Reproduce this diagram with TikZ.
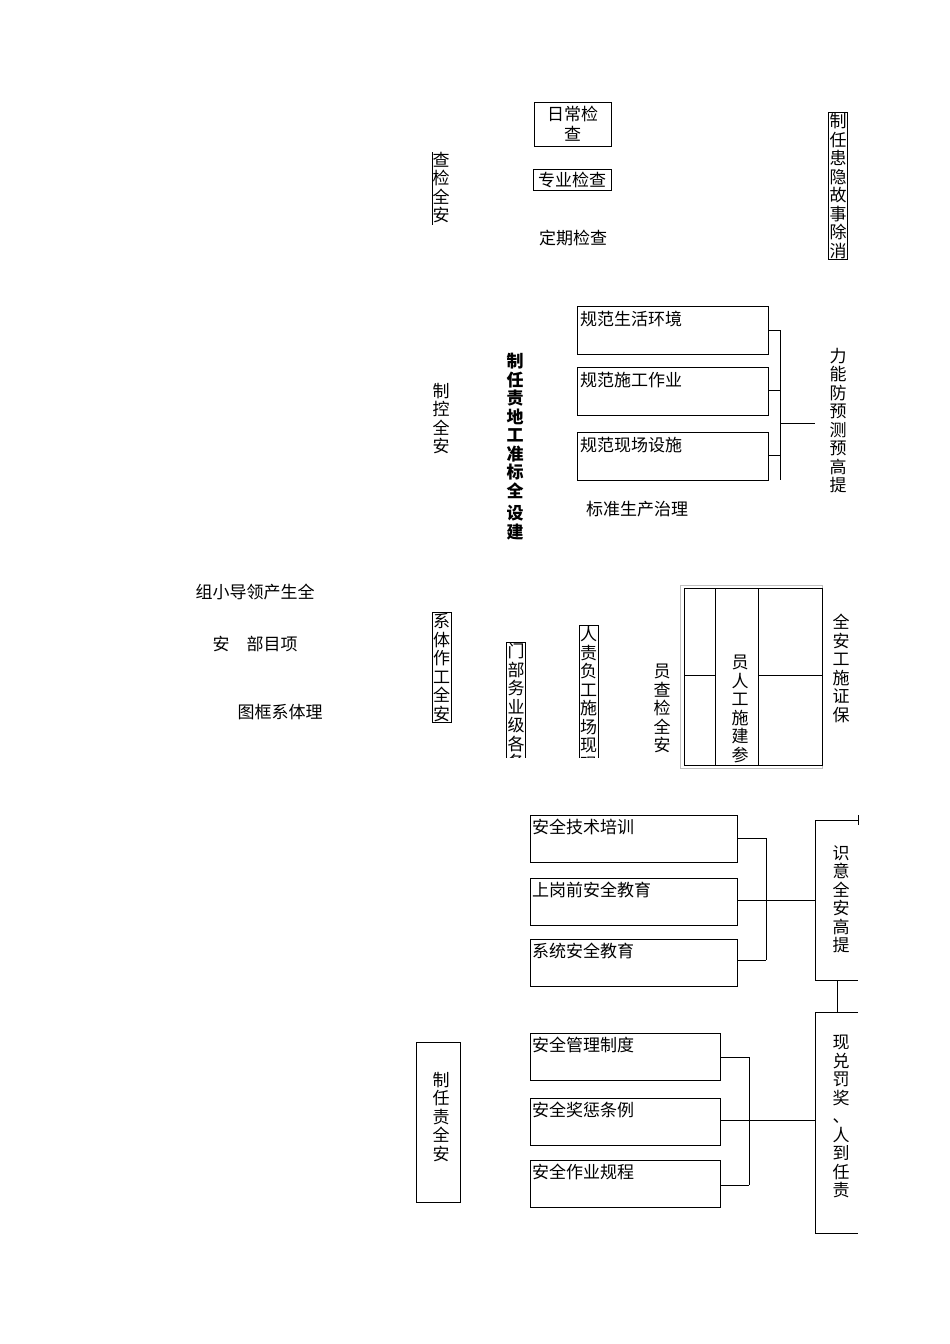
\documentclass[tikz,border=0pt]{standalone}
\usepackage{fontspec}
\setmainfont{Noto Sans CJK SC}
\begin{document}
\begin{tikzpicture}[x=1pt,y=-1pt,
 t/.style={inner sep=0pt,font=\fontsize{17}{18}\selectfont,anchor=north},
 v/.style={t,align=center,font=\fontsize{17}{18.5}\selectfont},
 bx/.style={draw,line width=0.8pt},
 ln/.style={line width=1pt}]
\useasboundingbox (0,0) rectangle (950,1344);
% top section
\node[bx,minimum width=77,minimum height=44,inner sep=0pt,align=center,font=\fontsize{17}{20}\selectfont] (rc) at (572.5,124) {日常检\\查};
\node[bx,minimum width=78,minimum height=21,inner sep=0pt,font=\fontsize{17}{17}\selectfont] (zy) at (572,180) {专业检查};
\node[t] (dq) at (573,230) {定期检查};
\node[v] (jc) at (441,152) {查\\检\\全\\安};
\draw (432,152) -- (432,225);
\node[bx,v,anchor=north,inner sep=1pt] (xc) at (838,112) {制\\任\\患\\隐\\故\\事\\除\\消};
% second section
\node[v] (kz) at (441,383) {制\\控\\全\\安};
\node[v,font=\bfseries\fontsize{17}{18.5}\selectfont] (zr) at (515,353) {制\\任\\责\\地\\工\\准\\标\\全\\[4pt]设\\建};
\foreach \n/\y/\s in {a/306/规范生活环境,b/367/规范施工作业,c/432/规范现场设施}{
 \node[bx,ln,minimum width=191,minimum height=48,inner sep=0pt] (\n) at (672.5,\y+24) {};
 \node[t,anchor=north west] at (580,\y+5) {\s};
}
\draw[ln] (a.east|-0,330) -| (780,480);
\draw[ln] (b.east|-0,390) -- (780,390);
\draw[ln] (c.east|-0,455) -- (780,455);
\draw[ln] (780,423) -- (815,423);
\node[v] (tg) at (838,348) {力\\能\\防\\预\\测\\预\\高\\提};
\node[t] (bz) at (637,501) {标准生产治理};
% third section
\node[t] (lg) at (255,584) {组小导领产生全};
\node[t] (bm) at (255,636) {安\quad 部目项};
\node[t] (tk) at (280,704) {图框系体理};
\begin{scope}
\clip (420,612) rectangle (460,727);
\node[bx,v,inner sep=1pt] (gz) at (441.5,612) {系\\体\\作\\工\\全\\安};
\end{scope}
\begin{scope}
\clip (500,642) rectangle (530,757);
\node[bx,v,inner sep=1pt] (bm2) at (516,642) {门\\部\\务\\业\\级\\各\\各};
\end{scope}
\begin{scope}
\clip (570,625) rectangle (610,757);
\node[bx,v,inner sep=1pt] (fz) at (588.5,625) {人\\责\\负\\工\\施\\场\\现\\现};
\end{scope}
\begin{scope}
\clip (640,660) rectangle (690,760);
\node[v] (aj) at (662,664) {员\\查\\检\\全\\安};
\end{scope}
\draw[gray!50] (680,585) rectangle (822,768);
\draw (684,588) rectangle (822,765);
\draw (715,588) -- (715,765);
\draw (758,588) -- (758,765);
\draw (684,675) -- (715,675);
\draw (758,675) -- (822,675);
\node[v] (cy) at (740,655) {员\\人\\工\\施\\建\\参};
\begin{scope}
\clip (825,612) rectangle (860,730);
\node[v] (bzh) at (841,614) {全\\安\\工\\施\\证\\保};
\end{scope}
% fourth section
\foreach \n/\y/\s in {d/815/安全技术培训,e/878/上岗前安全教育,f/939/系统安全教育}{
 \node[bx,minimum width=207,minimum height=47,inner sep=0pt] (\n) at (633.5,\y+23.5) {};
 \node[t,anchor=north west] at (532,\y+4) {\s};
}
\draw (d.east|-0,838) -| (766,960);
\draw (e.east|-0,900) -- (815,900);
\draw (f.east|-0,960) -- (766,960);
\draw[ln] (858,820) -- (815,820) -- (815,980) -- (858,980);
\draw (858,815) -- (858,825);
\node[v] (ys) at (841,845) {识\\意\\全\\安\\高\\提};
\draw (837,980) -- (837,1012);
\draw[ln] (858,1012) -- (815,1012) -- (815,1233) -- (858,1233);
\node[v] (jf) at (841,1035) {现\\兑\\罚\\奖\\、\\人\\到\\任\\责};
\foreach \n/\y/\s in {g/1033/安全管理制度,h/1098/安全奖惩条例,i/1160/安全作业规程}{
 \node[bx,minimum width=190,minimum height=47,inner sep=0pt] (\n) at (625,\y+23.5) {};
 \node[t,anchor=north west] at (532,\y+4) {\s};
}
\draw (g.east|-0,1057) -| (749,1185);
\draw (h.east|-0,1120) -- (815,1120);
\draw (i.east|-0,1185) -- (749,1185);
\node[bx,minimum width=44,minimum height=160,inner sep=0pt] (aq) at (438,1122) {};
\node[v] at (441,1072) {制\\任\\责\\全\\安};
\end{tikzpicture}
\end{document}
